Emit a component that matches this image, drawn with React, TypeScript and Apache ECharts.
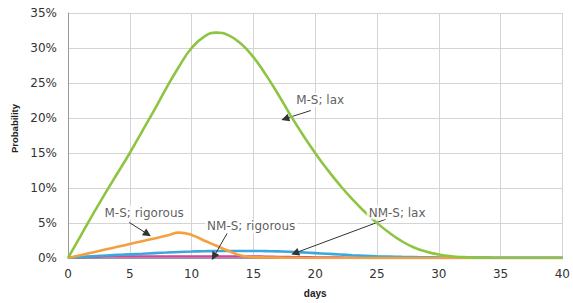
import React, { useEffect, useRef } from "react";
import * as echarts from "echarts";

const days = [0, 1, 2, 3, 4, 5, 6, 7, 8, 9, 10, 11, 12, 13, 14, 15, 16, 17, 18, 19, 20, 21, 22, 23, 24, 25, 26, 27, 28, 29, 30, 31, 32, 33, 34, 35, 36, 37, 38, 39, 40];

const msLax = [0, 3.1, 6.2, 9.2, 12.1, 15.0, 18.1, 21.2, 24.4, 27.4, 30.0, 31.6, 32.2, 31.8, 30.6, 28.7, 26.2, 23.4, 20.4, 17.6, 15.0, 12.6, 10.4, 8.4, 6.6, 5.0, 3.6, 2.4, 1.5, 0.9, 0.5, 0.25, 0.12, 0.05, 0.02, 0, 0, 0, 0, 0, 0];
const msRigorous = [0, 0.4, 0.8, 1.2, 1.6, 2.0, 2.4, 2.8, 3.2, 3.62, 3.3, 2.5, 1.75, 1.0, 0.35, 0.13, 0.08, 0.05, 0.03, 0.01, 0, 0, 0, 0, 0, 0, 0, 0, 0, 0, 0, 0, 0, 0, 0, 0, 0, 0, 0, 0, 0];
const nmsLax = [0, 0.12, 0.25, 0.35, 0.45, 0.52, 0.6, 0.7, 0.78, 0.86, 0.92, 0.97, 1.0, 1.0, 1.0, 1.0, 0.98, 0.95, 0.9, 0.8, 0.7, 0.6, 0.5, 0.4, 0.32, 0.25, 0.2, 0.16, 0.13, 0.1, 0.08, 0.07, 0.06, 0.05, 0.05, 0.04, 0.04, 0.03, 0.03, 0.03, 0.03];
const nmsRigorous = [0, 0.12, 0.18, 0.22, 0.22, 0.22, 0.22, 0.22, 0.22, 0.22, 0.22, 0.22, 0.22, 0.22, 0.22, 0.2, 0.18, 0.15, 0.12, 0.1, 0.08, 0.06, 0.05, 0.04, 0.03, 0.02, 0.01, 0, 0, 0, 0, 0, 0, 0, 0, 0, 0, 0, 0, 0, 0];

const annotationNames = ["M-S; lax", "M-S; rigorous", "NM-S; rigorous", "NM-S; lax"];
const labelDays = [20.4, 6.16, 14.82, 26.63];
const labelPcts = [22.58, 6.49, 4.52, 6.49];
const arrowFromDays = [19.65, 4.95, 12.88, 25.73];
const arrowFromPcts = [21.07, 5.08, 3.53, 5.55];
const arrowToDays = [17.57, 6.43, 11.8, 18.37];
const arrowToPcts = [19.9, 3.43, 0.21, 0.71];

const pairs = (vals: number[]) => days.map((d, i) => [d, vals[i]]);

export default function App() {
  const ref = useRef<HTMLDivElement>(null);
  useEffect(() => {
    if (!ref.current) return;
    const chart = echarts.init(ref.current, undefined, { renderer: "svg" });
    const lineSeries = (name: string, vals: number[], color: string, z: number) => ({
      name,
      type: "line",
      data: pairs(vals),
      smooth: 0.5,
      showSymbol: false,
      symbol: "none",
      z,
      lineStyle: { color, width: 2.6 },
      itemStyle: { color },
    });
    chart.setOption({
      animation: false,
      textStyle: { fontFamily: "DejaVu Sans" },
      grid: { left: 68, right: 7, top: 13, bottom: 42, containLabel: false },
      xAxis: {
        type: "value",
        min: 0,
        max: 40,
        interval: 5,
        name: "days",
        nameLocation: "middle",
        nameGap: 30,
        nameTextStyle: { fontFamily: "Liberation Sans", fontWeight: "bold", fontSize: 10, color: "#222" },
        axisLine: { show: true, lineStyle: { color: "#999", width: 1 } },
        axisTick: { show: false },
        axisLabel: { fontSize: 12, color: "#333", margin: 10, fontFamily: "DejaVu Sans" },
        splitLine: { show: true, lineStyle: { color: "#d4d4d4", width: 1 } },
      },
      yAxis: {
        type: "value",
        min: 0,
        max: 35,
        interval: 5,
        name: "Probability",
        nameLocation: "middle",
        nameRotate: 90,
        nameGap: 48,
        nameTextStyle: { fontFamily: "Liberation Sans", fontWeight: "bold", fontSize: 9.5, color: "#222", padding: [0, 0, 0, 14] },
        axisLine: { show: true, lineStyle: { color: "#999", width: 1 } },
        axisTick: { show: false },
        axisLabel: { fontSize: 12, color: "#333", margin: 11, formatter: "{value}%", fontFamily: "DejaVu Sans" },
        splitLine: { show: true, lineStyle: { color: "#d4d4d4", width: 1 } },
      },
      series: [
        lineSeries("NM-S; rigorous", nmsRigorous, "#C8489A", 2),
        lineSeries("NM-S; lax", nmsLax, "#3AA8DC", 3),
        lineSeries("M-S; rigorous", msRigorous, "#F4A03E", 4),
        lineSeries("M-S; lax", msLax, "#8DC542", 5),
        {
          name: "annotations",
          type: "scatter",
          z: 10,
          symbolSize: 0,
          silent: true,
          itemStyle: { color: "#222" },
          label: {
            show: true,
            position: "inside",
            formatter: "{b}",
            color: "#333",
            fontSize: 12,
            fontFamily: "DejaVu Sans",
            backgroundColor: "#fff",
            padding: [1, 2],
          },
          data: annotationNames.map((n, i) => ({ name: n, value: [labelDays[i], labelPcts[i]] })),
          markLine: {
            silent: true,
            symbol: ["none", "triangle"],
            symbolSize: 8,
            label: { show: false },
            lineStyle: { color: "#333", width: 1, type: "solid" },
            data: annotationNames.map((_, i) => [
              { coord: [arrowFromDays[i], arrowFromPcts[i]] },
              { coord: [arrowToDays[i], arrowToPcts[i]] },
            ]),
          },
        },
      ],
    });
    return () => chart.dispose();
  }, []);
  return <div ref={ref} style={{ width: 573, height: 303, position: "absolute", left: 0, top: 0 }} />;
}
